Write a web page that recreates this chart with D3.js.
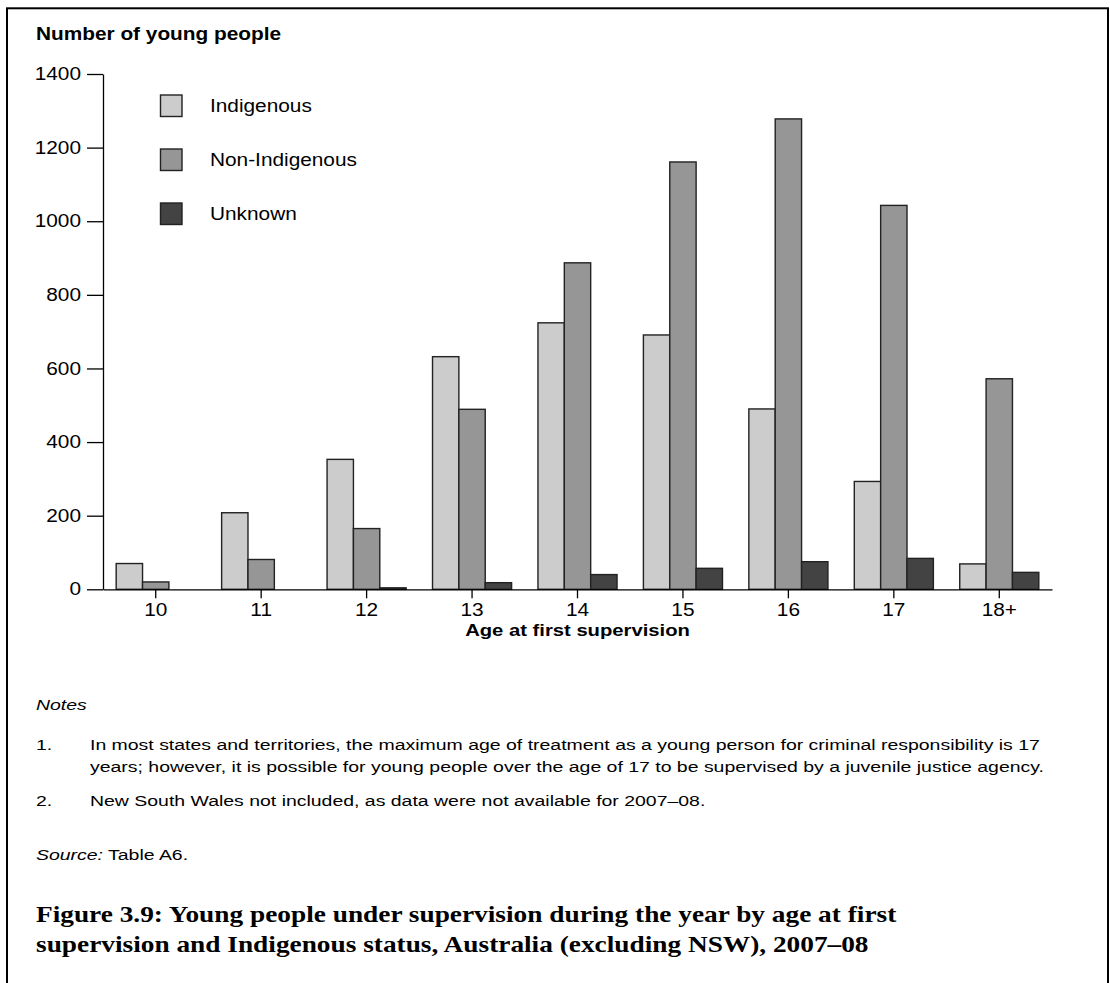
<!DOCTYPE html>
<html>
<head>
<meta charset="utf-8">
<script src="https://cdn.jsdelivr.net/npm/d3@7"></script>
<style>
  html, body { margin: 0; padding: 0; background: #fff; }
  svg { display: block; }
</style>
</head>
<body>
<svg id="chart" width="1110" height="983"></svg>
<script>
// ---- data ----
const categories = ["10", "11", "12", "13", "14", "15", "16", "17", "18+"];
const seriesNames = ["Indigenous", "Non-Indigenous", "Unknown"];
const indigenous = [70, 208, 353, 632, 724, 691, 490, 293, 69];
const nonIndigenous = [20, 81, 165, 489, 887, 1161, 1278, 1043, 572];
const unknown = [0, 0, 4, 18, 40, 57, 75, 84, 46];
const yTicks = [0, 200, 400, 600, 800, 1000, 1200, 1400];
const seriesColors = ["#cccccc", "#969696", "#434343"];

const yTitle = "Number of young people";
const xTitle = "Age at first supervision";
const notesHeading = "Notes";
const notes = [
  ["1.", ["In most states and territories, the maximum age of treatment as a young person for criminal responsibility is 17",
          "years; however, it is possible for young people over the age of 17 to be supervised by a juvenile justice agency."]],
  ["2.", ["New South Wales not included, as data were not available for 2007\u201308."]]
];
const sourceLabel = "Source:";
const sourceText = " Table A6.";
const figureTitle = ["Figure 3.9: Young people under supervision during the year by age at first",
                     "supervision and Indigenous status, Australia (excluding NSW), 2007\u201308"];

const values = [indigenous, nonIndigenous, unknown];

// ---- layout ----
const SX = 1.19; // horizontal stretch of the text in the reference
const SANS = "'Liberation Sans', Arial, sans-serif";
const SERIF = "'Liberation Serif', 'Times New Roman', serif";
const plot = { left: 103, right: 1052, top: 74, bottom: 589.3 };

const svg = d3.select("#chart");

function addText(parent, x, y, str, o = {}) {
  const sx = o.sx || SX;
  const t = parent.append("text")
    .attr("transform", `translate(${x},${y}) scale(${sx},1)`)
    .attr("text-anchor", o.anchor || "start")
    .attr("font-family", o.family || SANS)
    .attr("font-size", o.size || 17.5)
    .attr("font-weight", o.weight || "normal")
    .attr("font-style", o.style || "normal")
    .attr("fill", "#000");
  if (str !== null) t.text(str);
  return t;
}

// frame
svg.append("rect")
  .attr("x", 7).attr("y", 8.3).attr("width", 1101).attr("height", 1100)
  .attr("fill", "none").attr("stroke", "#000").attr("stroke-width", 2);

// scales
const x0 = d3.scaleBand().domain(categories)
  .range([plot.left, plot.right]).paddingInner(0.25).paddingOuter(0.125);
const x1 = d3.scaleBand().domain(seriesNames).range([0, x0.bandwidth()]);
const y = d3.scaleLinear().domain([0, 1400]).range([plot.bottom, plot.top]);

// bars
const g = svg.append("g");
seriesNames.forEach((s, si) => {
  g.selectAll(null)
    .data(categories.map((c, i) => ({ c, v: values[si][i] })).filter(d => d.v > 0))
    .join("rect")
    .attr("x", d => x0(d.c) + x1(s))
    .attr("y", d => y(d.v))
    .attr("width", x1.bandwidth())
    .attr("height", d => y(0) - y(d.v))
    .attr("fill", seriesColors[si])
    .attr("stroke", "#222")
    .attr("stroke-width", 1.4);
});

// y axis
const yAxis = svg.append("g")
  .attr("transform", `translate(${plot.left},0)`)
  .call(d3.axisLeft(y).tickValues(yTicks).tickSize(16).tickSizeOuter(0).tickPadding(6).tickFormat(d3.format("d")));
yAxis.select(".domain").attr("stroke", "#000").attr("stroke-width", 1.3);
yAxis.selectAll(".tick line").attr("stroke", "#000").attr("stroke-width", 1.3);
yAxis.selectAll(".tick text")
  .attr("font-family", SANS).attr("font-size", 17.5).attr("fill", "#000")
  .attr("x", -22 / SX).attr("transform", `scale(${SX},1)`);

// x axis
const xAxis = svg.append("g")
  .attr("transform", `translate(0,${plot.bottom})`)
  .call(d3.axisBottom(x0).tickSize(9).tickSizeOuter(0).tickPadding(5));
xAxis.select(".domain").attr("stroke", "#000").attr("stroke-width", 1.3);
xAxis.selectAll(".tick line").attr("stroke", "#000").attr("stroke-width", 1.3);
xAxis.selectAll(".tick text")
  .attr("font-family", SANS).attr("font-size", 17.5).attr("fill", "#000")
  .attr("x", 0)
  .attr("transform", `scale(${SX},1)`);

// axis titles
addText(svg, 36, 40, yTitle, { weight: "bold", size: 17.5 });
addText(svg, (plot.left + plot.right) / 2, 636, xTitle, { weight: "bold", size: 17, anchor: "middle" });

// legend
const legend = svg.append("g");
seriesNames.forEach((s, i) => {
  const ly = 95 + i * 54;
  legend.append("rect")
    .attr("x", 160.5).attr("y", ly).attr("width", 21.5).attr("height", 21.5)
    .attr("fill", seriesColors[i]).attr("stroke", "#222").attr("stroke-width", 1.4);
  addText(legend, 210, ly + 17, s, { size: 17.5 });
});

// notes
const NOTE = { size: 15.5, sx: 1.255 };
addText(svg, 36, 710, notesHeading, { style: "italic", ...NOTE });
let ny = 750;
notes.forEach(([num, lines]) => {
  addText(svg, 36, ny, num, NOTE);
  lines.forEach((ln, j) => {
    addText(svg, 90, ny + j * 21.5, ln, NOTE);
  });
  ny += (lines.length - 1) * 21.5 + 34;
});
const src = addText(svg, 36, 860, null, NOTE);
src.append("tspan").attr("font-style", "italic").text(sourceLabel);
src.append("tspan").text(sourceText);

// figure title
figureTitle.forEach((ln, i) => {
  addText(svg, 36, 922 + i * 30, ln, { family: SERIF, weight: "bold", size: 22.5, sx: 1.215 });
});
</script>
</body>
</html>
